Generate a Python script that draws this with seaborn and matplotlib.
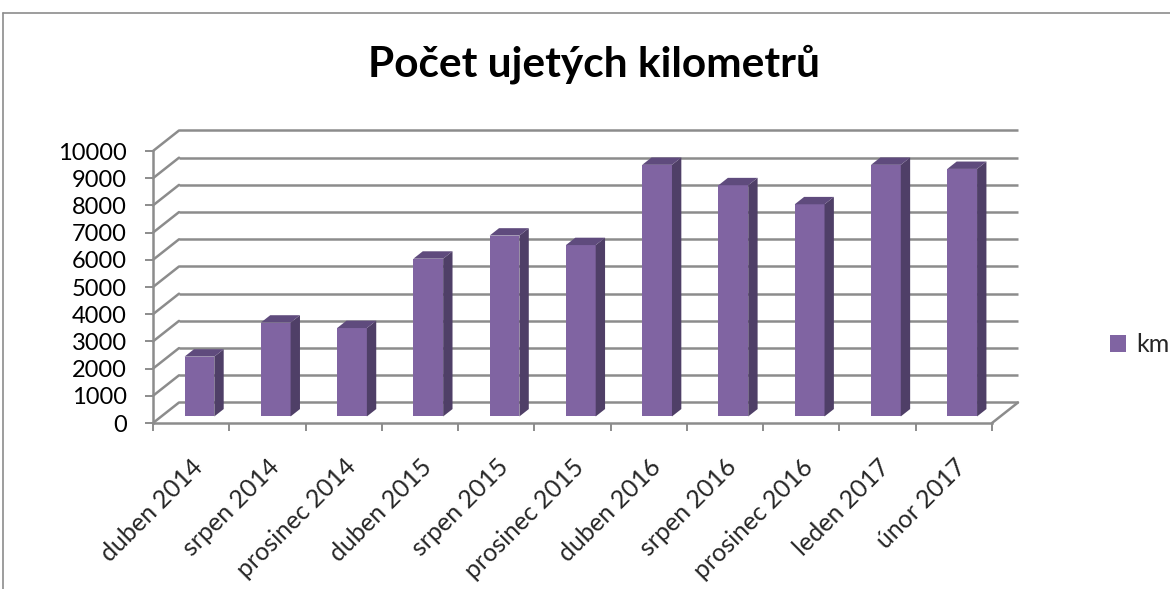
import numpy as np
import pandas as pd
import matplotlib
matplotlib.use("Agg")
import matplotlib.pyplot as plt
from matplotlib.patches import Polygon
from matplotlib.lines import Line2D
import seaborn as sns

# ---- data ----
categories = ["duben 2014", "srpen 2014", "prosinec 2014", "duben 2015", "srpen 2015",
              "prosinec 2015", "duben 2016", "srpen 2016", "prosinec 2016", "leden 2017", "únor 2017"]
km_values = [2200, 3450, 3250, 5800, 6650, 6300, 9250, 8500, 7800, 9250, 9100]
y_ticks = list(range(0, 10001, 1000))
series_name = "km"
title_text = "Počet ujetých kilometrů"

# ---- style ----
sns.set_style("white")
plt.rcParams["font.family"] = ["Lato", "DejaVu Sans"]

FRONT = "#8064A2"
SIDE = "#4F3F67"
TOP = "#5F4B7D"
GRID = "#8C8C8C"
DX = 0.341      # depth offset in category units
DY = 754        # depth offset in value units
F0, F1 = 0.32, 0.68  # bar depth span (fraction of full depth)

W, H = 1170, 589
fig = plt.figure(figsize=(W / 100, H / 100), dpi=100)
ax = fig.add_axes([153 / W, 1 - 423 / H, (992 - 153) / W, (423 - 151) / H])

df = pd.DataFrame({"cat": categories, series_name: km_values})
sns.barplot(data=df, x="cat", y=series_name, order=categories, color=FRONT,
            saturation=1, width=0.39, ax=ax, label=series_name, zorder=3)

n = len(categories)
ax.set_xlim(-0.5, n - 0.5)
ax.set_ylim(0, y_ticks[-1])

# back wall + left wall gridlines
x0, x1 = -0.5, n - 0.5
for v in y_ticks:
    ax.plot([x0 + DX, x1 + DX], [v + DY, v + DY], color=GRID, lw=1.8, zorder=1, clip_on=False,
            solid_capstyle="butt")
    ax.plot([x0, x0 + DX], [v, v + DY], color=GRID, lw=1.8, zorder=1, clip_on=False)
# floor right edge
ax.plot([x1, x1 + DX], [0, DY], color=GRID, lw=1.8, zorder=1, clip_on=False)

# 3D faces of bars
for p in list(ax.patches):
    xl = p.get_x()
    w = p.get_width()
    h = p.get_height()
    xr = xl + w
    p.set_x(xl + F0 * DX)
    p.set_y(F0 * DY)
    p.set_edgecolor("none")
    p.set_clip_on(False)
    p.set_zorder(3)
    side = Polygon([(xr + F0 * DX, F0 * DY), (xr + F1 * DX, F1 * DY),
                    (xr + F1 * DX, h + F1 * DY), (xr + F0 * DX, h + F0 * DY)],
                   closed=True, facecolor=SIDE, edgecolor="none", zorder=3, clip_on=False)
    top = Polygon([(xl + F0 * DX, h + F0 * DY), (xr + F0 * DX, h + F0 * DY),
                   (xr + F1 * DX, h + F1 * DY), (xl + F1 * DX, h + F1 * DY)],
                  closed=True, facecolor=TOP, edgecolor="none", zorder=3, clip_on=False)
    ax.add_patch(side)
    ax.add_patch(top)

# spines
for s in ["top", "right"]:
    ax.spines[s].set_visible(False)
for s in ["left", "bottom"]:
    ax.spines[s].set_color(GRID)
    ax.spines[s].set_linewidth(1.8)
    ax.spines[s].set_zorder(2)

# ticks
ax.set_yticks(y_ticks)
ax.set_yticklabels([str(v) for v in y_ticks])
ax.tick_params(axis="y", length=5.5, width=1.4, color=GRID, pad=13.5, labelsize=17,
               labelcolor="black", left=True)
ax.set_xticks(np.arange(-0.5, n, 1.0))
ax.set_xticklabels([])
ax.tick_params(axis="x", which="major", length=6, width=1.4, color=GRID, bottom=True)
ax.set_xticks(np.arange(n), minor=True)
ax.set_xticklabels(categories, minor=True, rotation=45, ha="right", va="top",
                   rotation_mode="anchor", fontsize=18)
ax.tick_params(axis="x", which="minor", length=0, pad=23)
ax.set_xlabel("")
ax.set_ylabel("")
ax.grid(False)
if ax.get_legend() is not None:
    ax.get_legend().remove()

# legend
handles, labels = ax.get_legend_handles_labels()
fig.legend(handles, labels, loc="center left", bbox_to_anchor=(1097 / W, 1 - 345 / H),
           frameon=False, fontsize=18, handlelength=0.65, handleheight=0.65,
           handletextpad=0.4, borderpad=0)

# title
fig.text(594 / W, 1 - 77 / H, title_text, ha="center", va="baseline",
         fontsize=30.5, fontweight="bold", color="black")

# outer frame (top and left edges visible)
fig.add_artist(Line2D([3 / W, 1.0], [1 - 13 / H, 1 - 13 / H], color=GRID, lw=1.2,
                      transform=fig.transFigure))
fig.add_artist(Line2D([3 / W, 3 / W], [0.0, 1 - 13 / H], color=GRID, lw=1.2,
                      transform=fig.transFigure))

fig.savefig("out.png", dpi=100)
